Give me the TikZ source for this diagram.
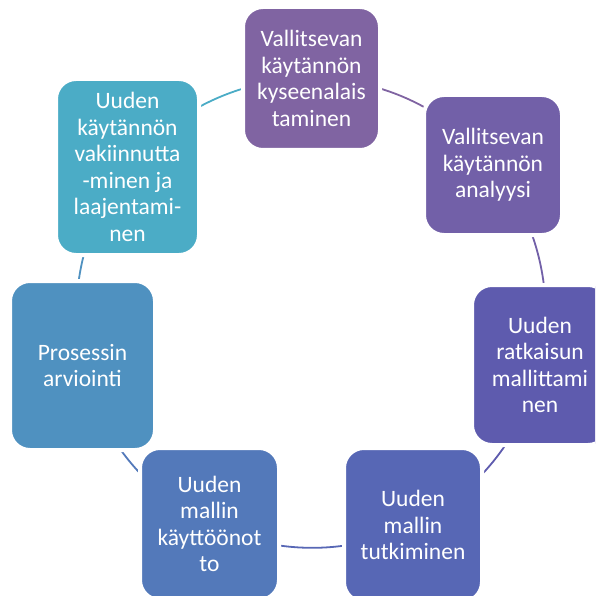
\documentclass[tikz,border=0pt]{standalone}
\usepackage{fontspec}
\setmainfont{Carlito}
\usetikzlibrary{backgrounds}
\definecolor{c1}{HTML}{8064A2}
\definecolor{c2}{HTML}{7260A8}
\definecolor{c3}{HTML}{5E5BAE}
\definecolor{c4}{HTML}{5767B5}
\definecolor{c5}{HTML}{5379BA}
\definecolor{c6}{HTML}{4F91C0}
\definecolor{c7}{HTML}{4BACC6}
\begin{document}
\begin{tikzpicture}[x=1pt,y=-1pt,
  box/.style={rounded corners=20pt, draw=white, line width=4pt, text=white,
    align=center, inner sep=0pt, font=\fontsize{23.5}{26.5}\selectfont},
  conn/.style={line width=1.8pt, bend left=25.7, looseness=0.9}]
\useasboundingbox (0,0) rectangle (595,596);
\clip (0,0) rectangle (595,596);
\node[box, fill=c1, minimum width=137pt, minimum height=143pt] (n1) at (311.5,78.5)
  {Vallitsevan\\käytännön\\kyseenalais\\taminen};
\node[box, fill=c2, minimum width=138pt, minimum height=140pt] (n2) at (493,165)
  {Vallitsevan\\käytännön\\analyysi};
\node[box, fill=c3, minimum width=136pt, minimum height=160pt] (n3) at (540,365)
  {Uuden\\ratkaisun\\mallittami\\nen};
\node[box, fill=c4, minimum width=138pt, minimum height=154pt] (n4) at (413,525)
  {Uuden\\mallin\\tutkiminen};
\node[box, fill=c5, minimum width=139pt, minimum height=152pt] (n5) at (209.5,524)
  {Uuden\\mallin\\käyttöönot\\to};
\node[box, fill=c6, minimum width=145pt, minimum height=169pt] (n6) at (82.5,365.5)
  {Prosessin\\arviointi};
\node[box, fill=c7, minimum width=143pt, minimum height=176pt] (n7) at (127.5,167)
  {Uuden\\käytännön\\vakiinnutta\\-minen ja\\laajentami-\\nen};
\begin{scope}[on background layer]
\draw[conn, draw=c1] (n1.center) to (n2.center);
\draw[conn, draw=c2] (n2.center) to (n3.center);
\draw[conn, draw=c3] (n3.center) to (n4.center);
\draw[conn, draw=c4] (n4.center) to (n5.center);
\draw[conn, draw=c5] (n5.center) to (n6.center);
\draw[conn, draw=c6] (n6.center) to (n7.center);
\draw[conn, draw=c7] (n7.center) to (n1.center);
\end{scope}
\end{tikzpicture}
\end{document}
